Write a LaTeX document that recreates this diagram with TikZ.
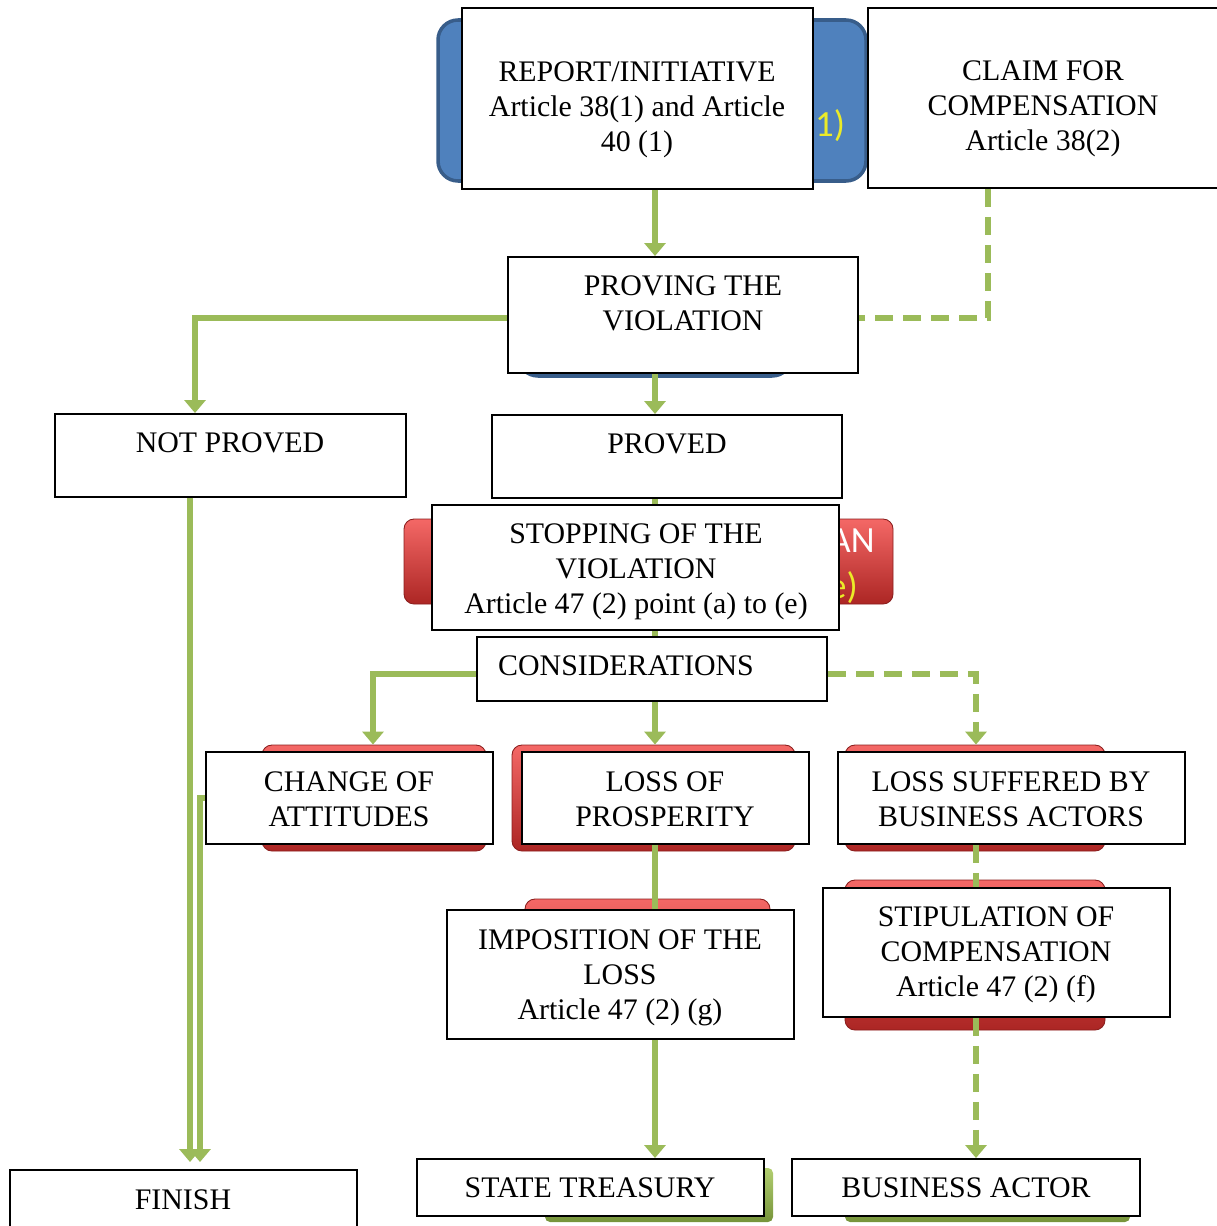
\documentclass[tikz,border=0pt]{standalone}
\usepackage{fontspec}
\setmainfont{Liberation Serif}
\newfontfamily\calfont{Carlito}
\usetikzlibrary{arrows.meta,fit}

\definecolor{grn}{RGB}{155,187,89}
\definecolor{blu}{RGB}{79,129,189}
\definecolor{bluD}{RGB}{56,93,138}
\definecolor{redT}{RGB}{244,104,102}
\definecolor{redB}{RGB}{172,38,36}
\definecolor{grnT}{RGB}{178,206,112}
\definecolor{grnB}{RGB}{118,148,58}
\definecolor{yel}{RGB}{235,235,40}

\tikzset{
	box/.style={draw=black, line width=1.1pt, fill=white, inner sep=0pt},
	txt/.style={align=center, inner sep=0pt, font=\fontsize{17pt}{19.9pt}\selectfont},
	frag/.style={inner sep=0pt, font=\calfont\fontsize{21pt}{24pt}\selectfont},
	bgblue/.style={draw=bluD, line width=2pt, fill=blu, rounded corners=0.4cm, inner sep=0pt},
	bgred/.style={draw=redB!80!black, line width=0.5pt, top color=redT, bottom color=redB, rounded corners=0.2cm, inner sep=0pt},
	bggreen/.style={top color=grnT, bottom color=grnB, rounded corners=0.1cm, inner sep=0pt},
	con/.style={draw=grn, line width=0.12cm},
	arr/.style={con, -{Triangle[width=0.42cm,length=0.26cm]}},
	dsh/.style={dash pattern=on 0.36cm off 0.2cm},
}

\begin{document}
\begin{tikzpicture}[x=0.02cm, y=-0.02cm]
	\useasboundingbox (0,0) rectangle (1216,1226);
	
	%Shapes behind the boxes
	\node[bgblue, fit={(438,20) (866,181)}] (RepBg) {};
	\node[bgblue, fit={(518,268) (792,376)}] (ProvBg) {};
	\node[bgred, fit={(404,519) (893,604)}] (StopBg) {};
	\node[bgred, fit={(262,745) (486,851)}] (ChangeBg) {};
	\node[bgred, fit={(512,745) (795,851)}] (LossBg) {};
	\node[bgred, fit={(845,745) (1105,851)}] (SuffBg) {};
	\node[bgred, fit={(525,899) (770,1030)}] (ImpoBg) {};
	\node[bgred, fit={(845,880) (1105,1030)}] (StipBg) {};
	\node[bggreen, fit={(545,1168) (773,1222)}] (TreasBg) {};
	\node[bggreen, fit={(845,1175) (1130,1222)}] (ActorBg) {};
	
	\node[frag, text=yel] (F1) at (830,126) {1)};
	\node[frag, text=white] (F2) at (852,541) {AN};
	\node[frag, text=yel] (F3) at (843,588) {e)};
	
	%Boxes
	\node[box, fit={(462,8) (813,189)}] (Report) {};
	\node[box, fit={(868,8) (1230,188)}] (Claim) {};
	\node[box, fit={(508,257) (858,373)}] (Proving) {};
	\node[box, fit={(55,414) (406,497)}] (NotProved) {};
	\node[box, fit={(492,415) (842,498)}] (Proved) {};
	\node[box, fit={(432,505) (839,630)}] (Stop) {};
	\node[box, fit={(477,637) (827,701)}] (Cons) {};
	\node[box, fit={(206,752) (493,844)}] (Change) {};
	\node[box, fit={(522,752) (809,844)}] (Loss) {};
	\node[box, fit={(838,752) (1185,844)}] (Suff) {};
	\node[box, fit={(447,910) (794,1039)}] (Impo) {};
	\node[box, fit={(823,888) (1170,1017)}] (Stip) {};
	\node[box, fit={(10,1170) (357,1240)}] (Fin) {};
	\node[box, fit={(417,1159) (764,1216)}] (Treas) {};
	\node[box, fit={(792,1159) (1140,1216)}] (Actor) {};
	
	%Texts
	\node[txt] (ReportT) at (637,110) {REPORT/INITIATIVE\\Article 38(1) and Article\\40 (1)};
	\node[txt] (ClaimT) at (1043,109) {CLAIM FOR\\COMPENSATION\\Article 38(2)};
	\node[txt] (ProvingT) at (683,303) {PROVING THE\\VIOLATION};
	\node[txt] (NotProvedT) at (230,443) {NOT PROVED};
	\node[txt] (ProvedT) at (667,444) {PROVED};
	\node[txt] (StopT) at (636,572) {STOPPING OF THE\\VIOLATION\\Article 47 (2) point (a) to (e)};
	\node[txt] (ConsT) at (626,666) {CONSIDERATIONS};
	\node[txt] (ChangeT) at (349,799) {CHANGE OF\\ATTITUDES};
	\node[txt] (LossT) at (665,799) {LOSS OF\\PROSPERITY};
	\node[txt] (SuffT) at (1011,799) {LOSS SUFFERED BY\\BUSINESS ACTORS};
	\node[txt] (ImpoT) at (620,978) {IMPOSITION OF THE\\LOSS\\Article 47 (2) (g)};
	\node[txt] (StipT) at (996,955) {STIPULATION OF\\COMPENSATION\\Article 47 (2) (f)};
	\node[txt] (FinT) at (183,1200) {FINISH};
	\node[txt] (TreasT) at (590,1188) {STATE TREASURY};
	\node[txt] (ActorT) at (966,1188) {BUSINESS ACTOR};
	
	%Columns and rows of the connectors
	\coordinate (Mid) at (655,0);
	\coordinate (Lft) at (195,0);
	\coordinate (Dsh) at (988,0);
	\coordinate (Cl) at (373,0);
	\coordinate (Cr) at (976,0);
	\coordinate (Fa) at (190,0);
	\coordinate (Fb) at (200,0);
	\coordinate (Ra) at (0,318);
	\coordinate (Rb) at (0,674);
	
	%Connectors
	\draw[arr] (Report.south -| Mid) -- (Proving.north -| Mid);
	\draw[con, dsh] (Claim.south -| Dsh) |- (Proving.east |- Ra);
	\draw[arr] (Proving.west |- Ra) -| (NotProved.north -| Lft);
	\draw[arr] (Proving.south -| Mid) -- (Proved.north -| Mid);
	\draw[con] (Proved.south -| Mid) -- (Stop.north -| Mid);
	\draw[con] (Stop.south -| Mid) -- (Cons.north -| Mid);
	\draw[arr] (Cons.west |- Rb) -| (ChangeBg.north -| Cl);
	\draw[arr] (Cons.south -| Mid) -- (LossBg.north -| Mid);
	\draw[arr, dsh] (Cons.east |- Rb) -| (SuffBg.north -| Cr);
	\draw[arr, shorten >=0.14cm] (NotProved.south -| Fa) -- (Fin.north -| Fa);
	\draw[arr, shorten >=0.14cm] (Change.west) -| (Fin.north -| Fb);
	\draw[con] (Loss.south -| Mid) -- (Impo.north -| Mid);
	\draw[arr] (Impo.south -| Mid) -- (Treas.north -| Mid);
	\draw[con, dsh] (Suff.south -| Cr) -- (Stip.north -| Cr);
	\draw[arr, dsh] (Stip.south -| Cr) -- (Actor.north -| Cr);
\end{tikzpicture}
\end{document}
